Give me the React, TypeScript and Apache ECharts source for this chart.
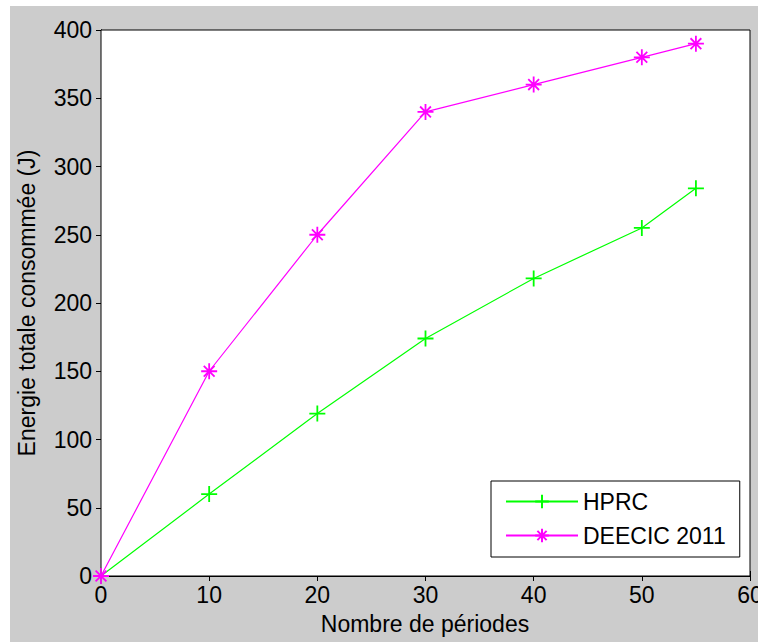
import React, { useEffect, useRef } from "react";
import * as echarts from "echarts";

const periods = [0, 10, 20, 30, 40, 50, 55];
const hprc = [0, 60, 119, 174, 218, 255, 284];
const deecic = [0, 150, 250, 340, 360, 380, 390];
const seriesNames = ["HPRC", "DEECIC 2011"];
const xTitle = "Nombre de périodes";
const yTitle = "Energie totale consommée (J)";

const FONT = "'Liberation Sans', Arial, Helvetica, sans-serif";
const FS = 23;

const plusPath = "path://M0,8 L16,8 M8,0 L8,16";
const starPath =
  "path://M0,8 L16,8 M8,0 L8,16 M2.6,2.6 L13.4,13.4 M13.4,2.6 L2.6,13.4";

export default function App() {
  const ref = useRef<HTMLDivElement>(null);
  useEffect(() => {
    if (!ref.current) return;
    const chart = echarts.init(ref.current, undefined, { renderer: "svg" });
    const tickCommon = {
      axisTick: { show: true, inside: true, length: 5, lineStyle: { color: "#000", width: 1 } },
      axisLine: { show: true, lineStyle: { color: "#000", width: 1 } },
      splitLine: { show: false },
    };
    chart.setOption({
      animation: false,
      backgroundColor: "#ffffff",
      textStyle: { fontFamily: FONT },
      grid: {
        left: 101,
        right: 8,
        top: 30,
        bottom: 66,
        containLabel: false,
        outerBoundsMode: "none",
        show: true,
        backgroundColor: "#ffffff",
        borderColor: "#000",
        borderWidth: 1,
        z: 1,
      },
      graphic: [
        {
          type: "rect",
          z: -10,
          silent: true,
          shape: { x: 10, y: 6, width: 760, height: 650 },
          style: { fill: "#cccccc" },
        },
        {
          type: "text",
          x: 425,
          y: 624,
          style: {
            text: xTitle,
            font: `${FS}px ${FONT}`,
            fill: "#000",
            align: "center",
            verticalAlign: "middle",
          },
        },
        {
          type: "text",
          x: 27,
          y: 303,
          rotation: Math.PI / 2,
          style: {
            text: yTitle,
            font: `${FS}px ${FONT}`,
            fill: "#000",
            align: "center",
            verticalAlign: "middle",
          },
        },
      ],
      xAxis: [
        {
          type: "value",
          min: 0,
          max: 60,
          interval: 10,
          position: "bottom",
          ...tickCommon,
          axisLabel: { color: "#000", fontSize: FS, fontFamily: FONT, margin: 7 },
        },
        {
          type: "value",
          min: 0,
          max: 60,
          interval: 10,
          position: "top",
          ...tickCommon,
          axisLabel: { show: false },
        },
      ],
      yAxis: [
        {
          type: "value",
          min: 0,
          max: 400,
          interval: 50,
          position: "left",
          ...tickCommon,
          axisLabel: { color: "#000", fontSize: FS, fontFamily: FONT, margin: 9 },
        },
        {
          type: "value",
          min: 0,
          max: 400,
          interval: 50,
          position: "right",
          ...tickCommon,
          axisLabel: { show: false },
        },
      ],
      legend: {
        left: 491,
        top: 481,
        orient: "vertical",
        backgroundColor: "#ffffff",
        borderColor: "#000",
        borderWidth: 1,
        padding: [8, 14, 9, 14],
        itemWidth: 72,
        itemHeight: 17,
        itemGap: 9,
        textStyle: { color: "#000", fontSize: FS, fontFamily: FONT, lineHeight: 25 },
        data: seriesNames,
      },
      series: [
        {
          name: seriesNames[0],
          type: "line",
          data: periods.map((p, i) => [p, hprc[i]]),
          symbol: plusPath,
          symbolSize: 16,
          showAllSymbol: true,
          lineStyle: { color: "#00ff00", width: 1.2 },
          itemStyle: { color: "#00ff00", borderColor: "#00ff00", borderWidth: 1.8 },
          z: 3,
        },
        {
          name: seriesNames[1],
          type: "line",
          data: periods.map((p, i) => [p, deecic[i]]),
          symbol: starPath,
          symbolSize: 16,
          showAllSymbol: true,
          lineStyle: { color: "#ff00ff", width: 1.2 },
          itemStyle: { color: "#ff00ff", borderColor: "#ff00ff", borderWidth: 1.8 },
          z: 3,
        },
      ],
    });
    return () => chart.dispose();
  }, []);
  return (
    <div
      ref={ref}
      style={{ position: "absolute", left: 0, top: 0, width: 758, height: 642 }}
    />
  );
}
